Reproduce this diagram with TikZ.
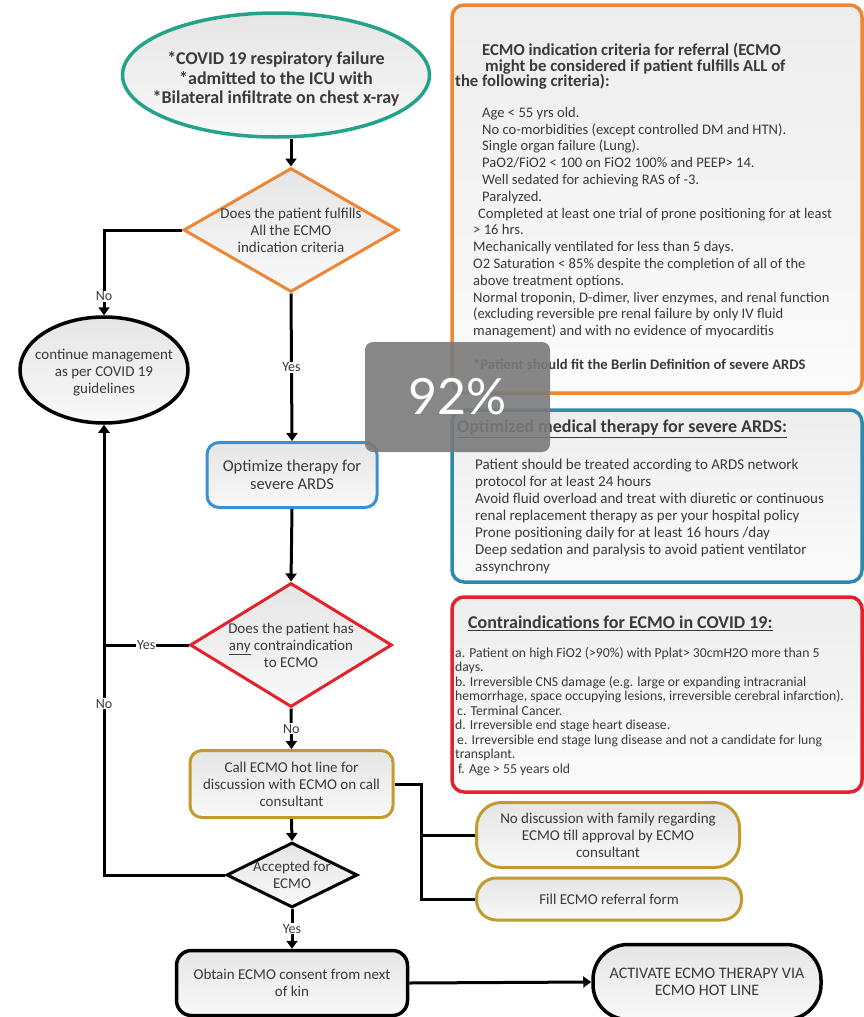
\documentclass[tikz,border=0pt]{standalone}
\usepackage{fontspec}
\setmainfont{Carlito}
\newfontfamily\popfont{Lato}
\usetikzlibrary{shapes.geometric,arrows.meta,positioning}

\definecolor{tealline}{HTML}{22A38A}
\definecolor{orangeline}{HTML}{EE8636}
\definecolor{blueline}{HTML}{3A90D6}
\definecolor{seablue}{HTML}{2B8BAE}
\definecolor{redline}{HTML}{E2232B}
\definecolor{goldline}{HTML}{C29B2C}
\definecolor{txt}{HTML}{3A3A3A}

\tikzset{
  flow/.style={line width=3pt,-{Triangle[length=8pt,width=11pt]}},
  link/.style={line width=3pt},
  lab/.style={fill=white,inner sep=1pt,text=txt,font=\fontsize{14}{16}\selectfont},
  shaded/.style={top color=gray!20,bottom color=gray!5},
  boxnode/.style={shaded,draw=#1,line width=3pt,rectangle,rounded corners=12pt},
  decision/.style={shaded,draw=#1,line width=3pt,diamond},
  oval/.style={shaded,draw=#1,line width=3.5pt,ellipse},
  panel/.style={top color=gray!14,bottom color=gray!3,draw=#1,line width=3.5pt,rounded corners=12pt},
  inside/.style={text=txt,align=center,font=\fontsize{15}{17}\selectfont},
  notes/.style={anchor=north west,inner sep=0pt,align=left,text=txt},
  popup/.style={fill=black!52,fill opacity=0.9,text opacity=1,text=white,rounded corners=8pt}
}

\begin{document}
\begin{tikzpicture}[x=1pt,y=-1pt]
\useasboundingbox (0,0) rectangle (863,1017);

% flow column
\node[oval=tealline,minimum width=307pt,minimum height=124pt,
  label={[inside,yshift=-4pt,font=\bfseries\fontsize{18}{19.5}\selectfont]center:{*COVID 19 respiratory failure\\*admitted to the ICU with\\*Bilateral infiltrate on chest x-ray}}] (start) at (276,75) {};
\node[decision=orangeline,minimum width=215pt,minimum height=124pt,
  label={[inside]center:{Does the patient fulfills\\All the ECMO\\indication criteria}}] (d1) at (291,230) {};
\node[oval=black,minimum width=168pt,minimum height=106pt,
  label={[inside,yshift=-3pt]center:{continue management\\as per COVID 19\\guidelines}}] (cont) at (104,370) {};
\node[boxnode=blueline,minimum width=170pt,minimum height=65pt,inside,font=\fontsize{16.5}{17.5}\selectfont] (opt) at (292,475) {Optimize therapy for\\severe ARDS};
\node[decision=redline,minimum width=202pt,minimum height=124pt,
  label={[inside]center:{Does the patient has\\\underline{any} contraindication\\to ECMO}}] (d2) at (291,645) {};
\node[boxnode=goldline,minimum width=203pt,minimum height=67pt,inside] (call) at (291.5,784) {Call ECMO hot line for\\discussion with ECMO on call\\consultant};
\node[decision=black,minimum width=131pt,minimum height=65pt,
  label={[inside]center:{Accepted for\\ECMO}}] (acc) at (292,875) {};
\node[boxnode=black,line width=3.5pt,rounded corners=15pt,minimum width=231pt,minimum height=65pt,inside] (obtain) at (292,983) {Obtain ECMO consent from next\\of kin};
\node[boxnode=black,line width=3.5pt,rounded corners=35pt,minimum width=228pt,minimum height=75pt,inside,font=\fontsize{16}{17.5}\selectfont] (activate) at (707,982) {ACTIVATE ECMO THERAPY VIA\\ECMO HOT LINE};
\node[boxnode=goldline,rounded corners=25pt,minimum width=263pt,minimum height=65pt,inside] (nodisc) at (608,835) {No discussion with family regarding\\ECMO till approval by ECMO\\consultant};
\node[boxnode=goldline,rounded corners=20pt,minimum width=265pt,minimum height=42pt,inside] (fillform) at (609,899) {Fill ECMO referral form};

% side panels
\node[panel=orangeline,minimum width=410pt,minimum height=388pt] (crit) at (657,199) {};
\node[panel=seablue,minimum width=410pt,minimum height=172pt] (ards) at (657,496) {};
\node[panel=redline,minimum width=410pt,minimum height=195pt] (contra) at (657,694.5) {};

\node[notes,font=\bfseries\fontsize{16.7}{15.5}\selectfont] (critHead) at (455,43) {\hspace*{27pt}ECMO indication criteria for referral (ECMO\\
\hspace*{30pt}might be considered if patient fulfills ALL of\\
the following criteria):};
\node[notes,font=\fontsize{14.6}{16.8}\selectfont] (critBody) at (473,107) {\hspace*{9pt}Age < 55 yrs old.\\
\hspace*{9pt}No co-morbidities (except controlled DM and HTN).\\
\hspace*{9pt}Single organ failure (Lung).\\
\hspace*{9pt}PaO2/FiO2 < 100 on FiO2 100\% and PEEP> 14.\\
\hspace*{9pt}Well sedated for achieving RAS of -3.\\
\hspace*{9pt}Paralyzed.\\
\hspace*{5pt}Completed at least one trial of prone positioning for at least\\
> 16 hrs.\\
Mechanically ventilated for less than 5 days.\\
O2 Saturation < 85\% despite the completion of all of the\\
above treatment options.\\
Normal troponin, D-dimer, liver enzymes, and renal function\\
(excluding reversible pre renal failure by only IV fluid\\
management) and with no evidence of myocarditis\\[17pt]
\textbf{*Patient should fit the Berlin Definition of severe ARDS}};

\node[notes,font=\bfseries\fontsize{18}{18}\selectfont] (ardsHead) at (457,420) {\underline{Optimized medical therapy for severe ARDS:}};
\node[notes,font=\fontsize{15}{17}\selectfont] (ardsBody) at (475,459) {Patient should be treated according to ARDS network\\
protocol for at least 24 hours\\
Avoid fluid overload and treat with diuretic or continuous\\
renal replacement therapy as per your hospital policy\\
Prone positioning daily for at least 16 hours /day\\
Deep sedation and paralysis to avoid patient ventilator\\
assynchrony};

\node[notes,font=\bfseries\fontsize{18}{18}\selectfont] (contraHead) at (468,616) {\underline{Contraindications for ECMO in COVID 19:}};
\node[notes,font=\fontsize{13.7}{14.5}\selectfont] (contraBody) at (455,647) {a. Patient on high FiO2 (>90\%) with Pplat> 30cmH2O more than 5\\
days.\\
b. Irreversible CNS damage (e.g. large or expanding intracranial\\
hemorrhage, space occupying lesions, irreversible cerebral infarction).\\
\hspace*{2pt}c. Terminal Cancer.\\
d. Irreversible end stage heart disease.\\
\hspace*{2pt}e. Irreversible end stage lung disease and not a candidate for lung\\
transplant.\\
\hspace*{3pt}f. Age > 55 years old};

% connectors
\draw[flow] (start.south -| d1.north) -- (d1.north);
\draw[flow] (d1.west) -| node[lab,pos=0.89] {No} (cont.north);
\draw[flow] (d1.south) -- node[lab] {Yes} (opt.north);
\draw[flow] (opt.south) -- (d2.north);
\draw[link] (d2.west) -- node[lab] {Yes} (d2.west -| cont.south);
\draw[flow] (acc.west) -| node[lab,pos=0.69] {No} (cont.south);
\draw[flow] (d2.south) -- node[lab] {No} (call.north);
\draw[flow] (call.south) -- (acc.north);
\draw[flow] (acc.south) -- node[lab] {Yes} (obtain.north);
\draw[flow] (obtain.east) -- (activate.west);
\draw[link] (call.east) -- ++(27pt,0) coordinate (fork) |- (fillform.west);
\draw[link] (fork |- nodisc.west) -- (nodisc.west);

% zoom indicator on top
\node[popup,minimum width=185pt,minimum height=110pt,font=\popfont\fontsize{50}{50}\selectfont] (pct) at (457.5,397) {92\%};
\end{tikzpicture}
\end{document}
